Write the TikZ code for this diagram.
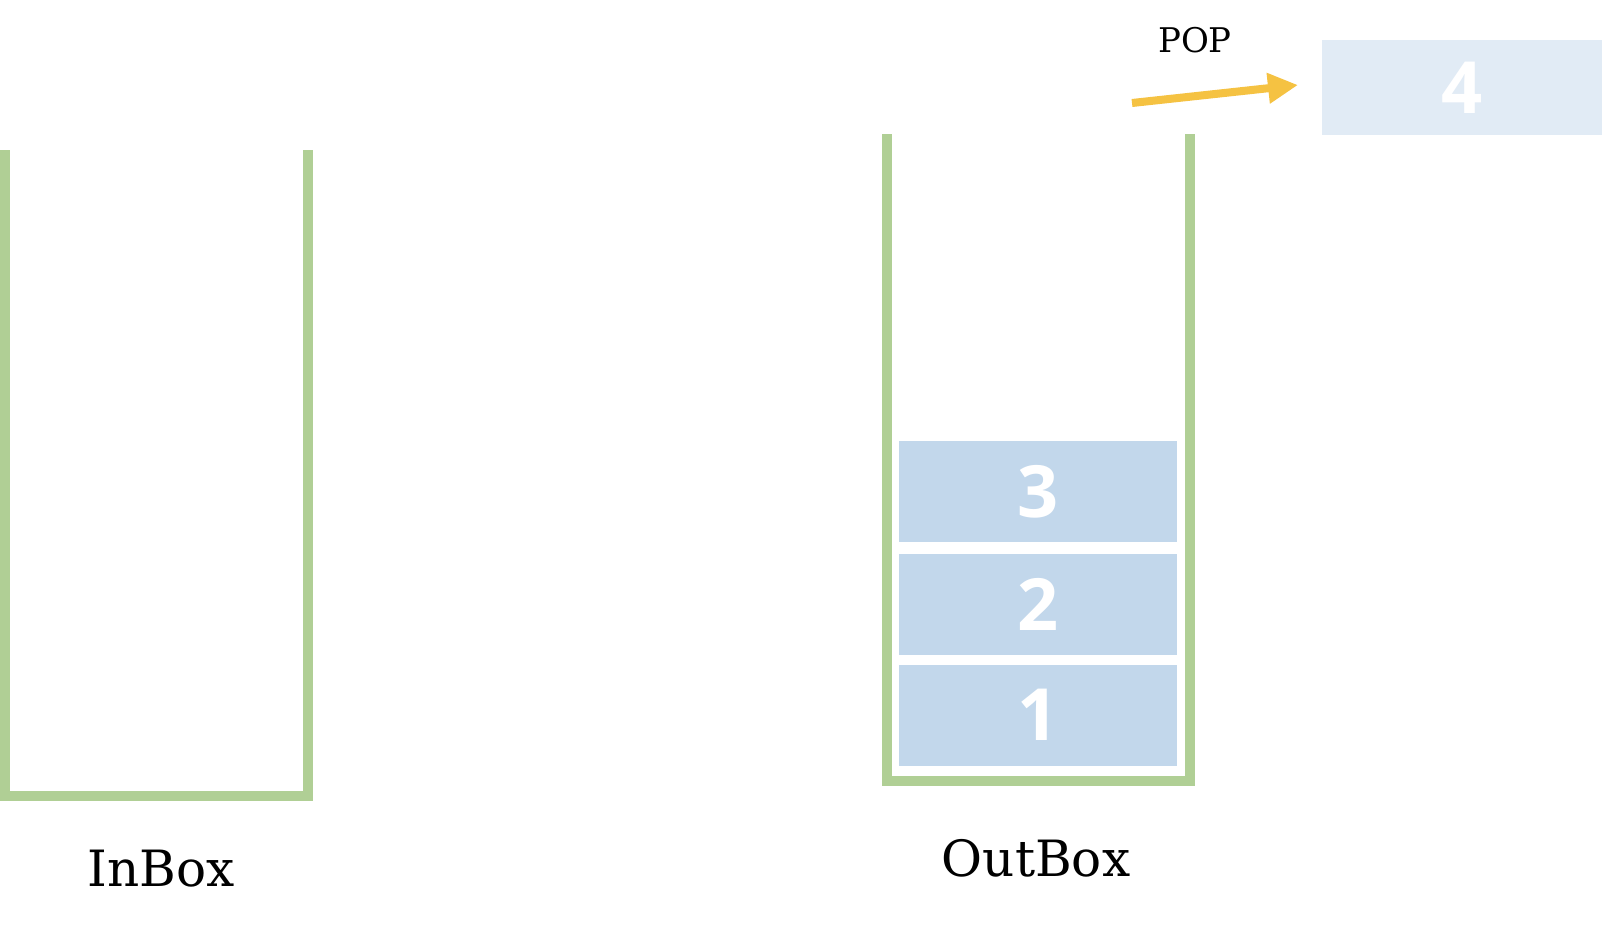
\documentclass[tikz,border=0pt]{standalone}
\usepackage{fontspec}
\setmainfont{DejaVu Serif}
\newfontfamily\numfont{Open Sans}
\definecolor{boxgreen}{HTML}{B0CF95}
\definecolor{cellblue}{HTML}{C2D7EB}
\definecolor{popblue}{HTML}{E1EBF5}
\definecolor{arroworange}{HTML}{F5C242}
\usetikzlibrary{arrows.meta}
\begin{document}
\begin{tikzpicture}[x=1pt,y=-1pt,
  stackwall/.style={draw=boxgreen,line width=10pt},
  cell/.style={fill=cellblue,draw=none,minimum width=278pt,minimum height=101pt,inner sep=0pt,text=white,font=\numfont\bfseries\fontsize{72}{72}\selectfont},
  poppedcell/.style={cell,fill=popblue,minimum width=280pt,minimum height=95pt},
  label/.style={font=\fontsize{50}{56}\selectfont,inner sep=0pt},
  poparrow/.style={draw=arroworange,line width=8pt,-{Triangle[length=30pt,width=29pt]}}]
\useasboundingbox (0,0) rectangle (1602,939);
% InBox
\coordinate (inTL) at (5,150);
\coordinate (inBL) at (5,796);
\coordinate (inBR) at (308,796);
\coordinate (inTR) at (308,150);
\draw[stackwall] (inTL) -- (inBL) -- (inBR) -- (inTR);
% OutBox
\coordinate (outTL) at (887,134);
\coordinate (outBL) at (887,781);
\coordinate (outBR) at (1190,781);
\coordinate (outTR) at (1190,134);
\draw[stackwall] (outTL) -- (outBL) -- (outBR) -- (outTR);
% cells
\node[cell] (c3) at (1038,491.5) {3};
\node[cell] (c2) at (1038,604.5) {2};
\node[cell] (c1) at (1038,715) {1};
\node[poppedcell] (c4) at (1462,87.5) {4};
% labels
\node[label] (inlabel) at (161,869) {InBox};
\node[label] (outlabel) at (1036,858) {OutBox};
\node[font=\fontsize{34}{40}\selectfont,inner sep=0pt] (poplabel) at (1195,40) {POP};
% arrow
\coordinate (arrstart) at (1132,103);
\coordinate (arrend) at (1298,85);
\draw[poparrow] (arrstart) -- (arrend);
\end{tikzpicture}
\end{document}
